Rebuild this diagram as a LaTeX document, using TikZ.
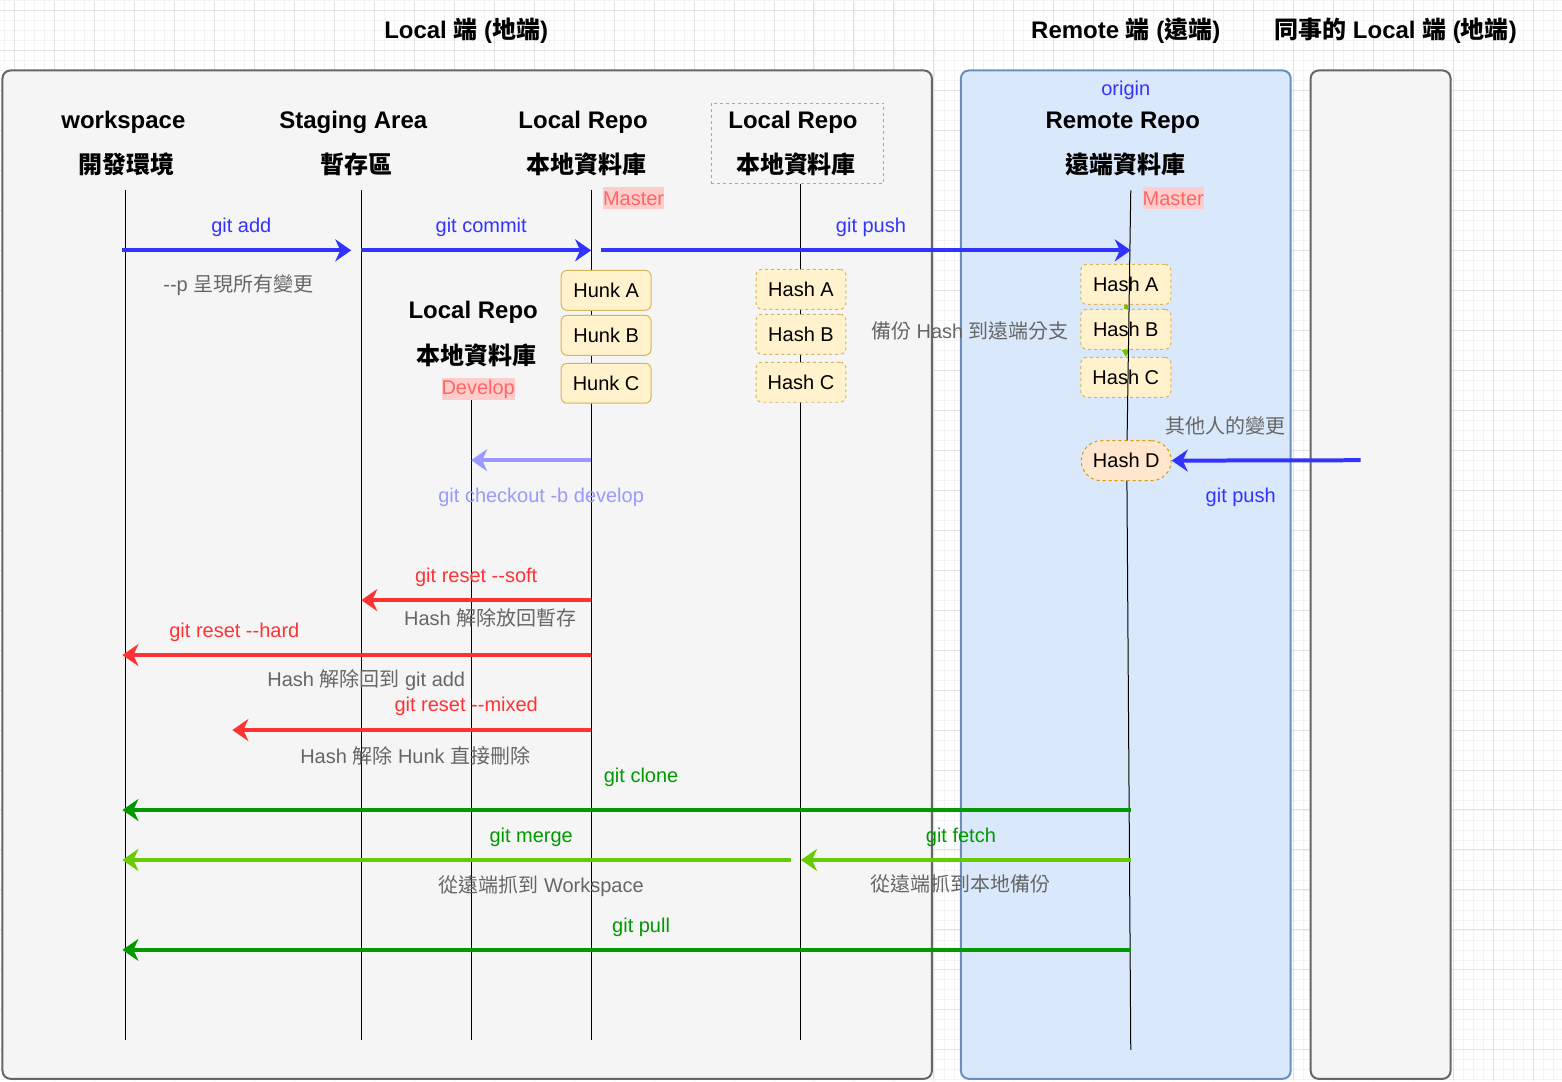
\documentclass[tikz,border=0pt]{standalone}
\usepackage{fontspec}
\setmainfont{Liberation Sans}
\newfontfamily\cjk{Noto Sans CJK TC}
\usetikzlibrary{arrows.meta, positioning}

\definecolor{gitblue}{HTML}{3333FF}
\definecolor{lightblue}{HTML}{9999FF}
\definecolor{gitred}{HTML}{FF3333}
\definecolor{darkgreen}{HTML}{009900}
\definecolor{lightgreen}{HTML}{66CC00}
\definecolor{notegray}{HTML}{666666}
\definecolor{boxgray}{HTML}{F5F5F5}
\definecolor{boxline}{HTML}{666666}
\definecolor{remotefill}{HTML}{DAE8FC}
\definecolor{remoteline}{HTML}{6C8EBF}
\definecolor{hunkfill}{HTML}{FFF2CC}
\definecolor{hunkline}{HTML}{D6B656}
\definecolor{hashdfill}{HTML}{FFE6CC}
\definecolor{hashdline}{HTML}{D79B00}
\definecolor{masterred}{HTML}{FF6666}
\definecolor{masterbg}{HTML}{FFCCCC}
\definecolor{gridmin}{HTML}{F3F3F3}
\definecolor{gridmaj}{HTML}{E2E2E2}

\newcommand{\zh}[1]{{\cjk #1}}

\tikzset{
  area/.style={draw=boxline, fill=boxgray, line width=1pt, rounded corners=4pt},
  title/.style={font=\bfseries\fontsize{12pt}{14pt}\selectfont, inner sep=0pt, yshift=-1pt},
  lbl/.style={font=\fontsize{10pt}{12pt}\selectfont, inner sep=0pt},
  tag/.style={lbl, yshift=-1pt},
  note/.style={tag, text=notegray},
  branch/.style={lbl, text=masterred, fill=masterbg, minimum height=11pt},
  hunk/.style={lbl, draw=hunkline, fill=hunkfill, line width=0.5pt, rounded corners=3pt,
    minimum width=45pt, minimum height=20pt},
  hash/.style={hunk, dash pattern=on 1.5pt off 1.5pt},
  lifeline/.style={line width=0.5pt},
  flow/.style={line width=2pt, -{Stealth[length=8pt, width=11pt, inset=2.5pt]}},
}

\begin{document}
\begin{tikzpicture}[x=0.5pt, y=-0.5pt]

  \fill[white] (0,0) rectangle (1562,1081);
  \foreach \gx in {4,14,...,1554} \draw[gridmin, line width=0.4pt] (\gx,0) -- (\gx,1081);
  \foreach \gy in {0,10,...,1080} \draw[gridmin, line width=0.4pt] (0,\gy) -- (1562,\gy);
  \foreach \gx in {14,54,...,1554} \draw[gridmaj, line width=0.5pt] (\gx,0) -- (\gx,1081);
  \foreach \gy in {10,50,...,1050} \draw[gridmaj, line width=0.5pt] (0,\gy) -- (1562,\gy);
  \useasboundingbox (0,0) rectangle (1562,1081);

  \draw[area] (2,70) rectangle (932,1079);
  \draw[area, fill=remotefill, draw=remoteline] (961,70) rectangle (1291,1079);
  \draw[area] (1311,70) rectangle (1451,1079);

  \node[title] (local side) at (466,28) {Local \zh{端} (\zh{地端})};
  \node[title] (remote side) at (1126,28) {Remote \zh{端} (\zh{遠端})};
  \node[title] (peer side) at (1396,28) {\zh{同事的} Local \zh{端} (\zh{地端})};

  \node[title] (ws name) at (123,120) {workspace};
  \node[title] (ws zh) at (126,162) {\zh{開發環境}};
  \node[title] (sa name) at (353,120) {Staging Area};
  \node[title] (sa zh) at (356,162) {\zh{暫存區}};
  \node[title] (lr name) at (583,120) {Local Repo};
  \node[title] (lr zh) at (586,162) {\zh{本地資料庫}};
  \node[draw=gray!70, dash pattern=on 1.5pt off 1.5pt, line width=0.5pt,
    minimum width=86.5pt, minimum height=40pt] (bk) at (797.5,143) {};
  \node[title] (bk name) at (793,120) {Local Repo};
  \node[title] (bk zh) at (796,162) {\zh{本地資料庫}};
  \node[tag, text=gitblue] (origin) at (1126,88) {origin};
  \node[title] (rm name) at (1123,120) {Remote Repo};
  \node[title] (rm zh) at (1126,162) {\zh{遠端資料庫}};
  \node[branch] (lr master) at (633.5,198) {Master};
  \node[branch] (rm master) at (1173.5,198) {Master};
  \node[title] (dv name) at (473,310) {Local Repo};
  \node[title] (dv zh) at (476,353) {\zh{本地資料庫}};
  \node[branch] (dv branch) at (478,389) {Develop};

  \coordinate (ws top) at (125,190);
  \coordinate (ws end) at (125,1040);
  \coordinate (sa top) at (361,190);
  \coordinate (sa end) at (361,1040);
  \coordinate (lr top) at (591,190);
  \coordinate (lr end) at (591,1040);
  \coordinate (dv top) at (471,400);
  \coordinate (dv end) at (471,1040);
  \coordinate (bk end) at (801,1040);
  \coordinate (rm top) at (1131,190);
  \coordinate (rm mid) at (1127,460);
  \coordinate (rm end) at (1131,1050);

  \draw[lifeline] (ws top) -- (ws end);
  \draw[lifeline] (sa top) -- (sa end);
  \draw[lifeline] (lr top) -- (lr end);
  \draw[lifeline] (dv top) -- (dv end);
  \draw[lifeline] (bk.south -| bk end) -- (bk end);

  \node[hunk] (hunk a) at (606,290) {Hunk A};
  \node[hunk] (hunk b) at (606,335) {Hunk B};
  \node[hunk] (hunk c) at (606,383) {Hunk C};
  \node[hash] (bk a) at (801,289) {Hash A};
  \node[hash] (bk b) at (801,334) {Hash B};
  \node[hash] (bk c) at (801,382) {Hash C};
  \node[hash] (rm a) at (1126,284) {Hash A};
  \node[hash] (rm b) at (1126,329) {Hash B};
  \node[hash] (rm c) at (1126,377) {Hash C};

  \draw[lightgreen, line width=2pt] (rm a.south) -- (rm b.north);
  \draw[lightgreen, line width=0.5pt, -{Triangle[length=3.5pt, width=4pt]}] (rm b.south) -- (rm c.north);

  \draw[lifeline] (rm top) -- (rm mid) -- (rm end);
  \node[hash, fill=hashdfill, draw=hashdline, rounded corners=10pt] (rm d) at (1126.5,460.5) {Hash D};

  \coordinate (add from) at (122,250);
  \coordinate (add to) at (351,250);
  \coordinate (commit from) at (361,250);
  \coordinate (commit to) at (591,250);
  \coordinate (push from) at (601,250);
  \coordinate (push to) at (1131,250);
  \coordinate (checkout from) at (591,460);
  \coordinate (checkout to) at (471,460);
  \coordinate (soft from) at (591,600);
  \coordinate (soft to) at (361,600);
  \coordinate (hard from) at (591,655);
  \coordinate (hard to) at (122,655);
  \coordinate (mixed from) at (591,730);
  \coordinate (mixed to) at (232,730);
  \coordinate (clone from) at (1131,810);
  \coordinate (clone to) at (122,810);
  \coordinate (fetch from) at (1131,860);
  \coordinate (fetch to) at (801,860);
  \coordinate (merge from) at (791,860);
  \coordinate (merge to) at (122,860);
  \coordinate (pull from) at (1131,950);
  \coordinate (pull to) at (122,950);
  \coordinate (peer from) at (1361,460);

  \draw[flow, gitblue] (add from) -- (add to);
  \draw[flow, gitblue] (commit from) -- (commit to);
  \draw[flow, gitblue] (push from) -- (push to);
  \draw[flow, lightblue] (checkout from) -- (checkout to);
  \draw[flow, gitred] (soft from) -- (soft to);
  \draw[flow, gitred] (hard from) -- (hard to);
  \draw[flow, gitred] (mixed from) -- (mixed to);
  \draw[flow, darkgreen] (clone from) -- (clone to);
  \draw[flow, lightgreen] (fetch from) -- (fetch to);
  \draw[flow, lightgreen] (merge from) -- (merge to);
  \draw[flow, darkgreen] (pull from) -- (pull to);
  \draw[flow, gitblue] (peer from) -- (rm d);

  \node[tag, text=gitblue] (add lbl) at (241,225) {git add};
  \node[note] (add note) at (238,283) {-{}-p \zh{呈現所有變更}};
  \node[tag, text=gitblue] (commit lbl) at (481,225) {git commit};
  \node[tag, text=gitblue] (push lbl) at (871,225) {git push};
  \node[tag, text=lightblue] (checkout lbl) at (541,495) {git checkout -b develop};
  \node[note] (backup note) at (970,329) {\zh{備份} Hash \zh{到遠端分支}};
  \node[note] (peer note) at (1226,424) {\zh{其他人的變更}};
  \node[tag, text=gitblue] (peer lbl) at (1241,495) {git push};
  \node[tag, text=gitred] (soft lbl) at (476,575) {git reset -{}-soft};
  \node[note] (soft note) at (490,616) {Hash \zh{解除放回暫存}};
  \node[tag, text=gitred] (hard lbl) at (234,630) {git reset -{}-hard};
  \node[note] (hard note) at (366,678) {Hash \zh{解除回到} git add};
  \node[tag, text=gitred] (mixed lbl) at (466,704) {git reset -{}-mixed};
  \node[note] (mixed note) at (415,754) {Hash \zh{解除} Hunk \zh{直接刪除}};
  \node[tag, text=darkgreen] (clone lbl) at (641,775) {git clone};
  \node[tag, text=darkgreen] (merge lbl) at (531,835) {git merge};
  \node[note] (merge note) at (541,884) {\zh{從遠端抓到} Workspace};
  \node[tag, text=darkgreen] (fetch lbl) at (961,835) {git fetch};
  \node[note] (fetch note) at (961,882) {\zh{從遠端抓到本地備份}};
  \node[tag, text=darkgreen] (pull lbl) at (641,925) {git pull};

\end{tikzpicture}
\end{document}
